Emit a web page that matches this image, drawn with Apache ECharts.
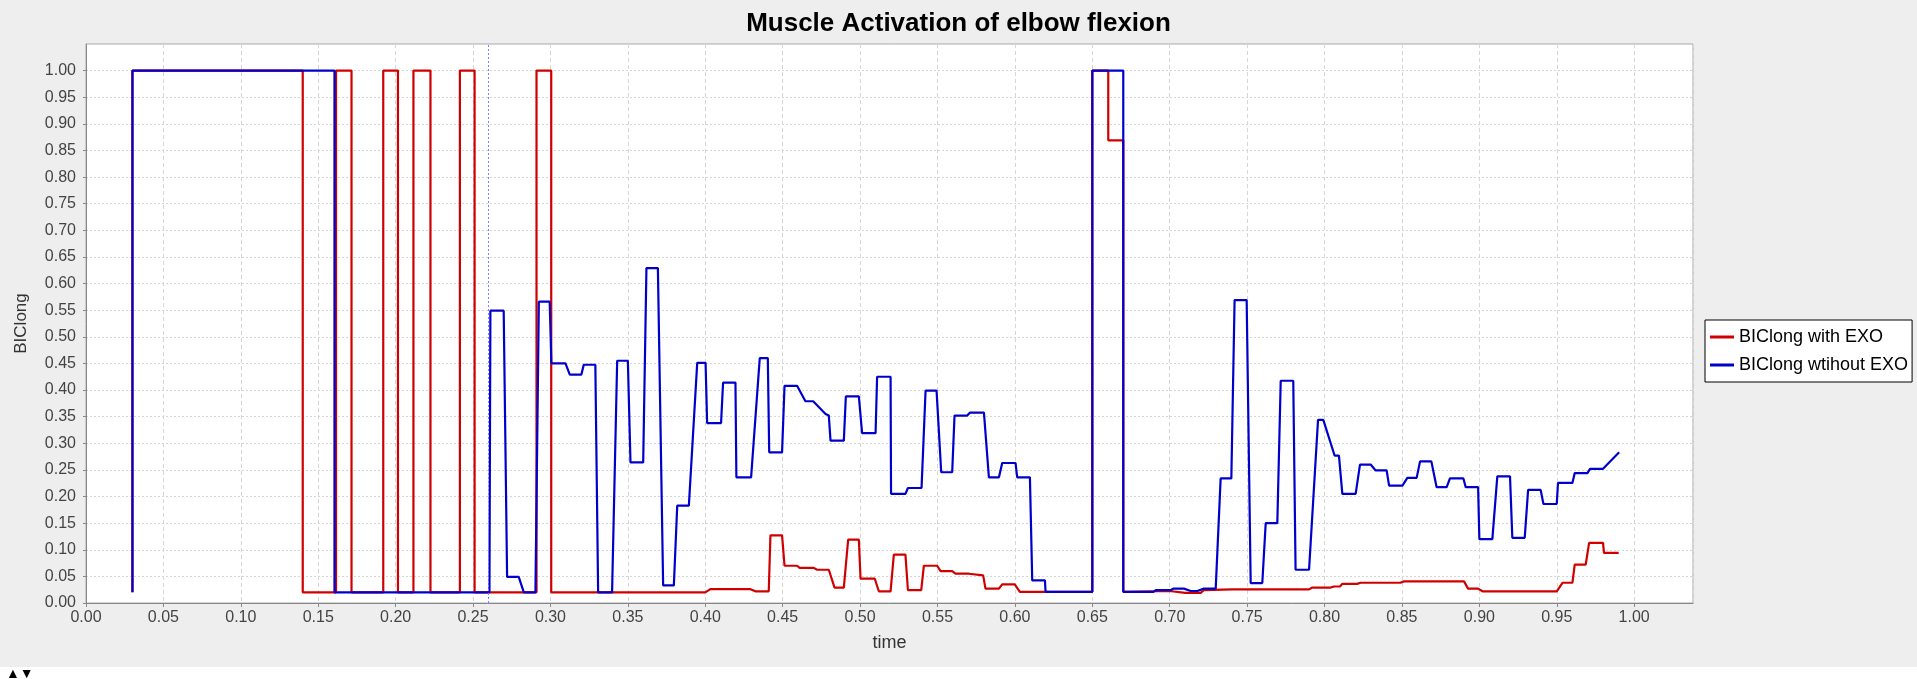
<!DOCTYPE html>
<html>
<head>
<meta charset="utf-8">
<script src="https://cdn.jsdelivr.net/npm/echarts@6/dist/echarts.min.js"></script>
<style>
html,body{margin:0;padding:0;background:#eeeeee;}
#chart{width:1917px;height:679px;}
</style>
</head>
<body>
<div id="chart"></div>
<script>
// ---- data (time, activation) ----
const seriesNames = ['BIClong with EXO', 'BIClong wtihout EXO'];

const redPoints = [
  [0.03,0.02],[0.03,1],[0.14,1],[0.14,0.02],
  [0.1615,0.02],[0.1615,1],[0.1715,1],[0.1715,0.02],
  [0.192,0.02],[0.192,1],[0.2015,1],[0.2015,0.02],
  [0.2115,0.02],[0.2115,1],[0.2225,1],[0.2225,0.02],
  [0.2415,0.02],[0.2415,1],[0.251,1],[0.251,0.02],
  [0.291,0.02],[0.291,1],[0.3005,1],[0.3005,0.02],
  [0.40,0.02],[0.4033,0.026],[0.4292,0.026],[0.4324,0.022],[0.441,0.022],[0.4421,0.127],
  [0.4496,0.127],[0.4512,0.07],[0.4593,0.07],[0.461,0.066],[0.4701,0.066],[0.4722,0.0625],
  [0.4798,0.0625],[0.4835,0.029],[0.4895,0.029],[0.4923,0.119],[0.4992,0.119],[0.5003,0.0456],
  [0.5095,0.0456],[0.5121,0.022],[0.5197,0.022],[0.5218,0.091],[0.5293,0.091],[0.5309,0.024],
  [0.5395,0.024],[0.5412,0.07],[0.5498,0.07],[0.552,0.06],[0.5595,0.06],[0.5616,0.055],
  [0.5703,0.055],[0.5713,0.052],[0.5795,0.052],[0.581,0.027],[0.5897,0.027],[0.5918,0.035],
  [0.5999,0.035],[0.6032,0.021],[0.65,0.021],[0.65,1],[0.6603,1],[0.6603,0.869],[0.67,0.869],
  [0.67,0.021],[0.70,0.0225],[0.71,0.019],[0.72,0.019],[0.722,0.024],[0.7404,0.0256],[0.79,0.0256],
  [0.7921,0.029],[0.804,0.029],[0.8061,0.031],[0.81,0.031],[0.8115,0.036],[0.821,0.036],
  [0.8233,0.038],[0.849,0.038],[0.8513,0.0406],[0.8901,0.0406],[0.8927,0.027],[0.8992,0.027],
  [0.902,0.022],[0.95,0.022],[0.9537,0.038],[0.9601,0.038],[0.9616,0.072],[0.9687,0.072],
  [0.9709,0.113],[0.9799,0.113],[0.9805,0.094],[0.99,0.094]
];

const bluePoints = [
  [0.03,0.02],[0.03,1],[0.1605,1],[0.1605,0.02],[0.2606,0.02],[0.2612,0.549],[0.2698,0.549],
  [0.272,0.049],[0.2795,0.049],[0.2828,0.02],[0.2903,0.02],[0.2925,0.566],[0.2995,0.566],
  [0.3006,0.45],[0.3097,0.45],[0.3125,0.429],[0.32,0.429],[0.3215,0.4475],[0.329,0.4475],
  [0.3308,0.02],[0.3398,0.02],[0.3431,0.455],[0.35,0.455],[0.3517,0.264],[0.3599,0.264],
  [0.362,0.629],[0.3694,0.629],[0.3728,0.033],[0.3797,0.033],[0.3819,0.183],[0.3894,0.183],
  [0.3948,0.451],[0.4002,0.451],[0.4012,0.338],[0.4102,0.338],[0.4115,0.414],[0.4195,0.414],
  [0.4201,0.236],[0.4296,0.236],[0.4352,0.46],[0.4404,0.46],[0.4413,0.283],[0.4496,0.283],
  [0.4512,0.408],[0.4593,0.408],[0.4647,0.379],[0.4697,0.379],[0.4777,0.355],[0.4798,0.352],
  [0.4809,0.305],[0.4895,0.305],[0.4908,0.388],[0.4992,0.388],[0.5013,0.319],[0.51,0.319],
  [0.511,0.425],[0.5197,0.425],[0.52,0.205],[0.5293,0.205],[0.5309,0.216],[0.5397,0.216],
  [0.5423,0.399],[0.5494,0.399],[0.5524,0.2456],[0.5595,0.2456],[0.561,0.352],[0.5692,0.352],
  [0.5709,0.3575],[0.58,0.3575],[0.5832,0.236],[0.5897,0.236],[0.5918,0.263],[0.6004,0.263],
  [0.6015,0.236],[0.6097,0.236],[0.6112,0.0425],[0.6194,0.0425],[0.6198,0.021],[0.65,0.021],
  [0.65,1],[0.67,1],[0.67,0.021],[0.6894,0.021],[0.691,0.024],[0.7006,0.024],[0.7023,0.027],
  [0.7092,0.027],[0.7135,0.0225],[0.7178,0.0225],[0.7221,0.027],[0.7297,0.027],[0.7329,0.234],
  [0.7398,0.234],[0.7419,0.569],[0.7497,0.569],[0.7523,0.0375],[0.7598,0.0375],[0.762,0.15],
  [0.7695,0.15],[0.7717,0.4175],[0.7798,0.4175],[0.7813,0.0625],[0.79,0.0625],[0.7958,0.344],
  [0.7992,0.344],[0.8065,0.277],[0.8093,0.277],[0.8115,0.205],[0.8201,0.205],[0.8229,0.26],
  [0.8298,0.26],[0.833,0.249],[0.8401,0.249],[0.8417,0.2206],[0.8503,0.2206],[0.8535,0.235],
  [0.8595,0.235],[0.8617,0.266],[0.869,0.266],[0.8724,0.2175],[0.8789,0.2175],[0.881,0.234],
  [0.8897,0.234],[0.8912,0.2175],[0.8992,0.2175],[0.9,0.12],[0.9084,0.12],[0.9116,0.238],
  [0.9198,0.238],[0.9213,0.1225],[0.9293,0.1225],[0.9315,0.2125],[0.9396,0.2125],[0.9414,0.186],
  [0.95,0.186],[0.9508,0.2256],[0.9601,0.2256],[0.9616,0.244],[0.9698,0.244],[0.9715,0.252],
  [0.9799,0.252],[0.9903,0.283]
];

const crosshairTime = 0.2627;
const xRange = [0, 1.038];
const yRange = [0, 1.05];
const tickStep = 0.05;

// ---- chart ----
const FONT = "'Liberation Sans', Arial, sans-serif";
const chart = echarts.init(document.getElementById('chart'), null, {renderer: 'canvas'});
const fmt = v => v.toFixed(2);

chart.setOption({
  animation: false,
  backgroundColor: '#eeeeee',
  title: {
    text: 'Muscle Activation of elbow flexion',
    left: 'center',
    top: 6,
    textStyle: {fontFamily: FONT, fontSize: 26, fontWeight: 'bold', color: '#000'}
  },
  legend: {
    orient: 'vertical',
    left: 1705,
    top: 320,
    padding: [8, 4, 8, 5],
    itemGap: 10,
    itemWidth: 24,
    itemHeight: 3,
    icon: 'rect',
    backgroundColor: '#ffffff',
    borderColor: '#000',
    borderWidth: 1,
    textStyle: {fontFamily: FONT, fontSize: 18, color: '#000'},
    data: seriesNames
  },
  grid: {
    left: 86, top: 44, width: 1607, height: 559,
    show: true, backgroundColor: '#ffffff', borderColor: '#aaaaaa', borderWidth: 1
  },
  xAxis: {
    type: 'value',
    min: xRange[0], max: xRange[1], interval: tickStep,
    name: 'time',
    nameLocation: 'middle',
    nameGap: 31,
    nameTextStyle: {fontFamily: FONT, fontSize: 18, color: '#333'},
    axisLine: {show: true, lineStyle: {color: '#888', width: 1}},
    axisTick: {show: true, length: 4, lineStyle: {color: '#888'}},
    axisLabel: {fontFamily: FONT, fontSize: 16, color: '#444', margin: 7, formatter: fmt, showMaxLabel: false},
    splitLine: {show: true, lineStyle: {color: '#d6d6d6', type: [4, 3], width: 1}}
  },
  yAxis: {
    type: 'value',
    min: yRange[0], max: yRange[1], interval: tickStep,
    name: 'BIClong',
    nameLocation: 'middle',
    nameGap: 56,
    nameTextStyle: {fontFamily: FONT, fontSize: 17, color: '#333'},
    axisLine: {show: true, lineStyle: {color: '#888', width: 1}},
    axisTick: {show: true, length: 3, lineStyle: {color: '#888'}},
    axisLabel: {fontFamily: FONT, fontSize: 16, color: '#444', margin: 10, formatter: fmt, showMaxLabel: false},
    splitLine: {show: true, lineStyle: {color: '#d6d6d6', type: [2, 2], width: 1}}
  },
  graphic: [
    {type: 'rect', left: 0, top: 667, shape: {width: 1917, height: 12}, style: {fill: '#ffffff'}, silent: true},
    {type: 'text', left: 6, top: 667, style: {text: '\u25B2\u25BC', fontSize: 14, fill: '#000'}, silent: true}
  ],
  series: [
    {
      name: seriesNames[0],
      type: 'line',
      data: redPoints,
      showSymbol: false,
      symbol: 'none',
      color: '#d00000',
      lineStyle: {color: '#d00000', width: 2.2},
      z: 2
    },
    {
      name: seriesNames[1],
      type: 'line',
      data: bluePoints,
      showSymbol: false,
      symbol: 'none',
      color: '#0000cc',
      lineStyle: {color: '#0000cc', width: 2.2},
      z: 3,
      markLine: {
        silent: true,
        symbol: 'none',
        label: {show: false},
        lineStyle: {color: '#8080ff', type: [2, 2], width: 1},
        data: [{xAxis: crosshairTime}]
      }
    }
  ]
});
</script>
</body>
</html>
